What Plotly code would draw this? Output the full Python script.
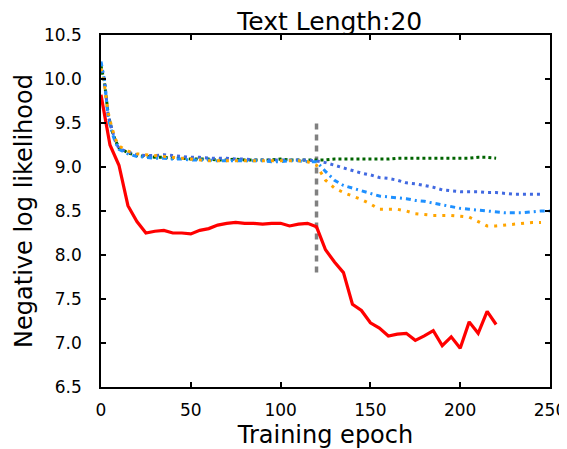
import plotly.graph_objects as go

# ---- data ----
red_x = list(range(0, 225, 5))
red_y = [9.82, 9.25, 9.02, 8.56, 8.38, 8.25, 8.27, 8.28, 8.25, 8.25,
         8.24, 8.28, 8.30, 8.34, 8.36, 8.37, 8.36, 8.36, 8.35, 8.36,
         8.36, 8.33, 8.35, 8.36, 8.32, 8.06, 7.92, 7.80, 7.44, 7.37,
         7.23, 7.17, 7.08, 7.10, 7.11, 7.03, 7.08, 7.14, 6.97, 7.07,
         6.94, 7.24, 7.11, 7.36, 7.21]

early_x = [0, 2, 4, 6, 8, 10, 15, 20, 25, 30, 35, 40, 45, 50, 55, 60, 65, 70,
           75, 80, 85, 90, 95, 100, 105, 110, 115, 120]

green_x = early_x + list(range(125, 225, 5))
green_y = [10.15, 9.95, 9.60, 9.42, 9.30, 9.22, 9.16, 9.13, 9.12, 9.11,
           9.11, 9.10, 9.10, 9.09, 9.09, 9.09, 9.08, 9.08, 9.09, 9.08,
           9.08, 9.08, 9.08, 9.09, 9.08, 9.08, 9.08, 9.08,
           9.08, 9.09, 9.09, 9.09, 9.09, 9.09, 9.09, 9.09, 9.10, 9.10,
           9.10, 9.10, 9.10, 9.10, 9.10, 9.10, 9.10, 9.11, 9.11, 9.10]

royal_x = early_x + list(range(125, 250, 5))
royal_y = [10.18, 9.98, 9.58, 9.42, 9.29, 9.21, 9.17, 9.14, 9.13, 9.13,
           9.14, 9.13, 9.12, 9.11, 9.11, 9.10, 9.10, 9.10, 9.09, 9.09,
           9.08, 9.08, 9.08, 9.08, 9.08, 9.08, 9.08, 9.07,
           9.05, 9.02, 8.99, 8.96, 8.93, 8.91, 8.88, 8.87, 8.85, 8.82,
           8.81, 8.79, 8.77, 8.74, 8.73, 8.72, 8.72, 8.72, 8.71, 8.71,
           8.70, 8.69, 8.69, 8.69, 8.69]

dodger_x = early_x + list(range(125, 255, 5))
dodger_y = [10.20, 9.97, 9.56, 9.40, 9.28, 9.20, 9.15, 9.12, 9.11, 9.10,
            9.10, 9.09, 9.09, 9.08, 9.08, 9.08, 9.07, 9.07, 9.07, 9.07,
            9.07, 9.07, 9.06, 9.06, 9.07, 9.07, 9.06, 9.06,
            8.95, 8.85, 8.79, 8.76, 8.73, 8.70, 8.67, 8.66, 8.65, 8.64,
            8.62, 8.61, 8.59, 8.57, 8.55, 8.53, 8.52, 8.51, 8.50, 8.49,
            8.48, 8.48, 8.48, 8.49, 8.50, 8.50]

orange_x = early_x + list(range(125, 250, 5))
orange_y = [10.12, 9.92, 9.62, 9.45, 9.32, 9.24, 9.18, 9.15, 9.14, 9.13,
            9.12, 9.11, 9.10, 9.09, 9.08, 9.07, 9.07, 9.07, 9.07, 9.07,
            9.07, 9.07, 9.07, 9.07, 9.07, 9.07, 9.06, 9.02,
            8.85, 8.76, 8.71, 8.67, 8.63, 8.58, 8.52, 8.52, 8.52, 8.50,
            8.47, 8.46, 8.45, 8.45, 8.45, 8.44, 8.43, 8.38, 8.33, 8.33,
            8.34, 8.35, 8.36, 8.37, 8.37]

switch_x = [120, 120]
switch_y = [7.8, 9.5]

x_ticks = [0, 50, 100, 150, 200, 250]
y_ticks = [6.5, 7.0, 7.5, 8.0, 8.5, 9.0, 9.5, 10.0, 10.5]

FONT = "DejaVu Sans"

fig = go.Figure()
fig.add_trace(go.Scatter(x=switch_x, y=switch_y, mode="lines",
                         line=dict(color="gray", width=3.5, dash="6px,5px")))
fig.add_trace(go.Scatter(x=green_x, y=green_y, mode="lines",
                         line=dict(color="darkgreen", width=3, dash="dot")))
fig.add_trace(go.Scatter(x=royal_x, y=royal_y, mode="lines",
                         line=dict(color="royalblue", width=3, dash="3px,4px")))
fig.add_trace(go.Scatter(x=dodger_x, y=dodger_y, mode="lines",
                         line=dict(color="dodgerblue", width=3, dash="5px,4px,2px,4px")))
fig.add_trace(go.Scatter(x=orange_x, y=orange_y, mode="lines",
                         line=dict(color="orange", width=3, dash="3px,6px")))
fig.add_trace(go.Scatter(x=red_x, y=red_y, mode="lines",
                         line=dict(color="red", width=3.2)))

axis_common = dict(showline=True, linecolor="black", linewidth=1.5, mirror="allticks",
                   ticks="inside", ticklen=5, tickwidth=1.5, tickcolor="black",
                   showgrid=False, zeroline=False, automargin=False,
                   tickfont=dict(family=FONT, size=17, color="black"))

# page body has an 8px default margin, so the figure is sized/offset to compensate
fig.update_layout(
    width=559, height=441,
    margin=dict(l=93, r=17, t=27, b=62, autoexpand=False),
    plot_bgcolor="white", paper_bgcolor="white",
    showlegend=False,
    title=dict(text="Text Length:20", x=0.5756, xanchor="center", y=0.951, yanchor="bottom",
               font=dict(family=FONT, size=25, color="black")),
    xaxis=dict(range=[0, 250], tickvals=x_ticks, ticklabelstandoff=7,
               title=dict(text="Training epoch", font=dict(family=FONT, size=24, color="black"), standoff=11),
               **axis_common),
    yaxis=dict(range=[6.5, 10.5], tickvals=y_ticks, ticktext=[f"{v:.1f}" for v in y_ticks],
               ticklabelstandoff=14,
               title=dict(text="Negative log likelihood", font=dict(family=FONT, size=24, color="black"), standoff=5),
               **axis_common),
)

fig.write_html("out.html")
